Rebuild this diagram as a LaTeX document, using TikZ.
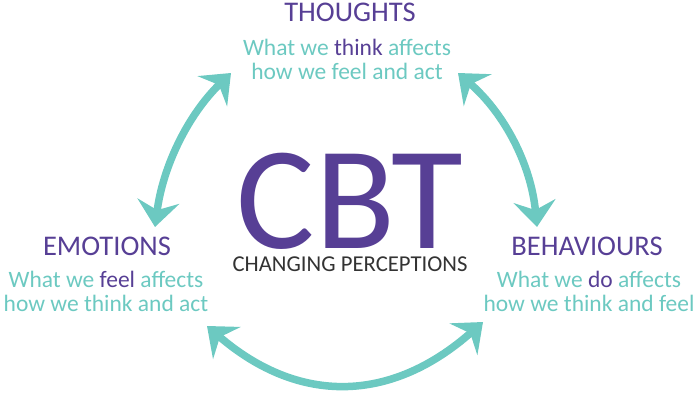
\documentclass[tikz,border=0pt]{standalone}
\usepackage{fontspec}
\setmainfont{Carlito}
\usetikzlibrary{arrows.meta,positioning}
\definecolor{cbtpurple}{HTML}{573F95}
\definecolor{cbtteal}{HTML}{6CC9C1}
\definecolor{cbtgray}{HTML}{333333}

\begin{document}
\begin{tikzpicture}[x=1pt, y=-1pt,
    head/.style={font=\fontsize{28.5}{30}\selectfont, text=cbtpurple, inner sep=0pt, anchor=base},
    desc/.style={font=\fontsize{23.5}{24}\selectfont, text=cbtteal, align=center, inner sep=0pt, anchor=base},
    link/.style={cbtteal, line width=7.5pt,
        {Stealth[length=26pt,width=42pt,inset=9pt]}-{Stealth[length=26pt,width=42pt,inset=9pt]}}]
    \useasboundingbox (0,0) rectangle (700,396);

    \node[head] (thoughts) at (350,22) {THOUGHTS};
    \node[desc] (thoughtsd) at (347,79) {What we \textcolor{cbtpurple}{think} affects\\how we feel and act};

    \node[head] (emotions) at (107,255) {EMOTIONS};
    \node[desc] (emotionsd) at (106,311) {What we \textcolor{cbtpurple}{feel} affects\\how we think and act};

    \node[head] (behaviours) at (587,255) {BEHAVIOURS};
    \node[desc] (behavioursd) at (589,311) {What we \textcolor{cbtpurple}{do} affects\\how we think and feel};

    \node[font=\fontsize{147}{150}\selectfont, text=cbtpurple, inner sep=0pt, text depth=0pt, anchor=base] (cbt) at (350,248) {CBT};
    \node[font=\fontsize{22.7}{24}\selectfont, text=cbtgray, inner sep=0pt, text height=14.6pt, anchor=base] (sub) at (350,271) {CHANGING PERCEPTIONS};

    % arrow ends
    \coordinate (thL) at (231,73);
    \coordinate (emT) at (155,227);
    \coordinate (thR) at (458,73);
    \coordinate (beT) at (537,227);
    \coordinate (emB) at (207,326);
    \coordinate (beB) at (483,322);

    \draw[link] (thL) .. controls (188,115) and (163,166) .. (emT);
    \draw[link] (thR) .. controls (505,114) and (531,165) .. (beT);
    \draw[link] (emB) .. controls (299,405) and (391,403) .. (beB);
\end{tikzpicture}
\end{document}
